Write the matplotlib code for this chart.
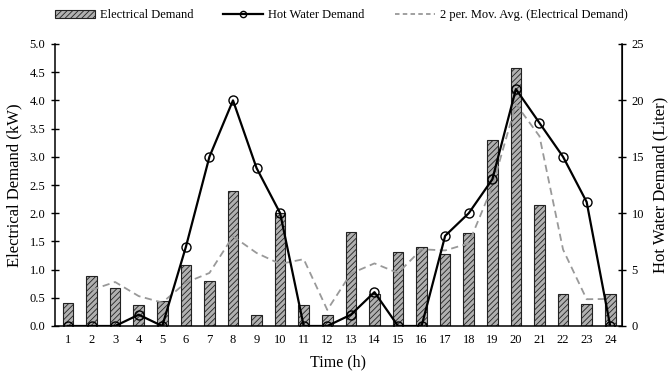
import matplotlib
matplotlib.use("Agg")
import matplotlib.pyplot as plt
import numpy as np
from matplotlib.lines import Line2D
from matplotlib.patches import Patch

plt.rcParams['font.family'] = ['Liberation Serif', 'DejaVu Serif']
plt.rcParams['hatch.linewidth'] = 0.6

hours = list(range(1, 25))
electrical_kw = [0.40, 0.88, 0.68, 0.38, 0.45, 1.09, 0.79, 2.39, 0.20, 2.00, 0.37, 0.20,
                 1.66, 0.56, 1.32, 1.40, 1.28, 1.65, 3.29, 4.58, 2.15, 0.56, 0.39, 0.57]
hot_water_l = [0, 0, 0, 1, 0, 7, 15, 20, 14, 10, 0, 0,
               1, 3, 0, 0, 8, 10, 13, 21, 18, 15, 11, 0]

# two-period moving average of electrical demand
mov_avg = [(electrical_kw[i - 1] + electrical_kw[i]) / 2 for i in range(1, len(electrical_kw))]
mov_hours = hours[1:]

fig = plt.figure(figsize=(6.68, 3.75), dpi=100)
ax = fig.add_axes([55 / 668, 1 - 326 / 375, (622 - 55) / 668, (326 - 44) / 375])
ax2 = ax.twinx()

ax.bar(hours, electrical_kw, width=0.45, color='#b0b0b0', edgecolor='#222222',
       linewidth=0.8, hatch='//////', zorder=2)
ax.plot(mov_hours, mov_avg, color='#999999', linestyle=(0, (4, 2.5)), linewidth=1.3, zorder=3)
ax2.plot(hours, hot_water_l, color='black', linewidth=1.6, marker='o', markersize=6.5,
         markerfacecolor='none', markeredgecolor='black', markeredgewidth=1.0, zorder=4)

ax.set_xlim(0.45, 24.5)
ax.set_ylim(0, 5.0)
ax2.set_ylim(0, 25)
ax.set_yticks(np.arange(0, 5.01, 0.5))
ax.set_yticklabels([f"{v:.1f}" for v in np.arange(0, 5.01, 0.5)])
ax2.set_yticks(range(0, 26, 5))
ax.set_xticks(hours)

for a in (ax, ax2):
    a.spines['top'].set_visible(False)
    a.tick_params(labelsize=9, width=1.0, length=6, direction='inout', pad=4)
ax.tick_params(axis='x', length=0, pad=6)
ax.spines['left'].set_linewidth(1.1)
ax.spines['bottom'].set_linewidth(1.1)
ax2.spines['right'].set_linewidth(1.1)
ax2.spines['left'].set_visible(False)
ax2.spines['bottom'].set_visible(False)

ax.set_xlabel("Time (h)", fontsize=11.5, labelpad=6)
ax.set_ylabel("Electrical Demand (kW)", fontsize=12, labelpad=5)
ax2.set_ylabel("Hot Water Demand (Liter)", fontsize=12, labelpad=6)

handles = [
    Patch(facecolor='#b0b0b0', edgecolor='#222222', hatch='//////', linewidth=0.8),
    Line2D([0], [0], color='black', linewidth=1.6, marker='o', markersize=4.5,
           markerfacecolor='none', markeredgecolor='black'),
    Line2D([0], [0], color='#999999', linestyle=(0, (2.5, 1.8)), linewidth=1.3),
]
labels = ["Electrical Demand", "Hot Water Demand", "2 per. Mov. Avg. (Electrical Demand)"]
fig.legend(handles, labels, loc='center', bbox_to_anchor=(341 / 668, 1 - 15 / 375), ncol=3,
           frameon=False, fontsize=9, handlelength=3.2, columnspacing=2.4,
           handletextpad=0.4, handleheight=0.6)

fig.savefig("out.png", dpi=100)
